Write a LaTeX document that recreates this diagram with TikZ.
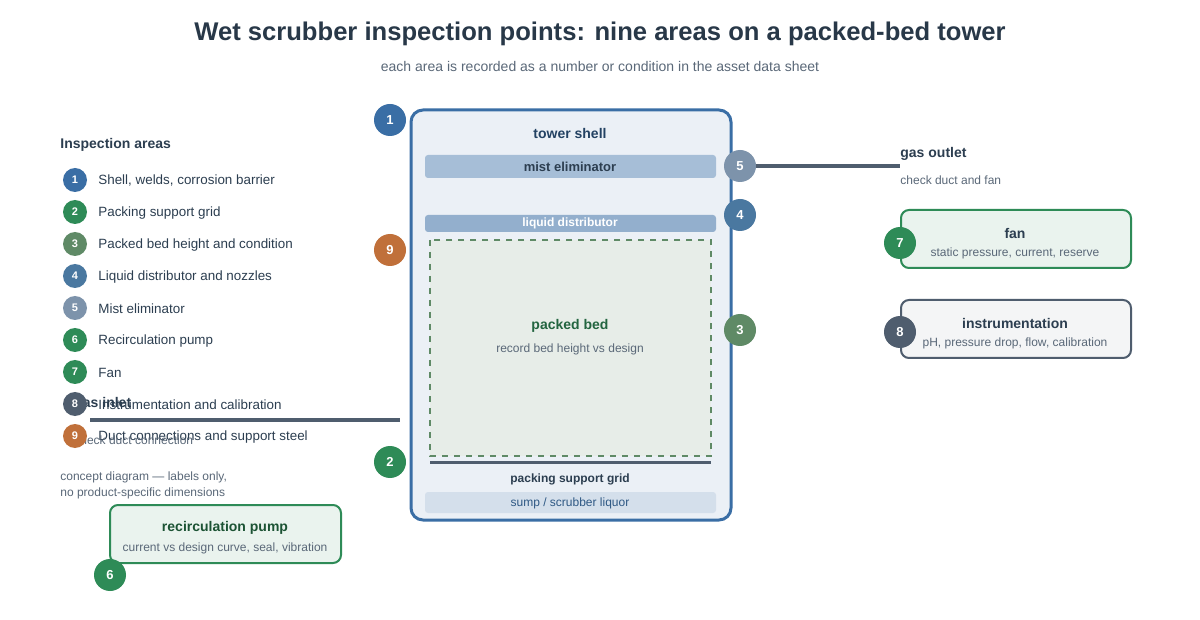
\documentclass[tikz,border=0pt]{standalone}
\usepackage{fontspec}
\setmainfont{Liberation Sans}
\begin{document}
\begin{tikzpicture}[x=0.5pt,y=-0.5pt,
  num/.style={circle,minimum size=16pt,inner sep=0pt,text=white,font=\fontsize{6.5}{7}\selectfont\bfseries},
  lnum/.style={circle,minimum size=12pt,inner sep=0pt,text=white,font=\fontsize{5.5}{6}\selectfont\bfseries},
  leg/.style={anchor=west,inner sep=0pt,text=txt,font=\fontsize{6.7}{8}\selectfont},
  small/.style={text=gry,font=\fontsize{6}{7}\selectfont},
  hd/.style={font=\fontsize{7}{8}\selectfont\bfseries},
  conn/.style={line width=2pt,draw=slate}]
\definecolor{txt}{HTML}{2C3E50}
\definecolor{gry}{HTML}{5A6878}
\definecolor{cblue}{HTML}{3A6EA5}
\definecolor{cgreen}{HTML}{2E8B57}
\definecolor{csage}{HTML}{5F8A66}
\definecolor{cblue2}{HTML}{4A78A0}
\definecolor{cgrey}{HTML}{7D93AB}
\definecolor{slate}{HTML}{4F5D6E}
\definecolor{corange}{HTML}{C0703A}
\useasboundingbox (0,0) rectangle (1200,620);
\fill[white] (0,0) rectangle (1200,620);
\node[text=txt!90!black,font=\fontsize{12.8}{15}\selectfont\bfseries] (title) at (600,34) {Wet scrubber inspection points: nine areas on a packed-bed tower};
\node[text=gry,font=\fontsize{7}{8}\selectfont] (sub) at (600,66) {each area is recorded as a number or condition in the asset data sheet};
% tower
\draw[draw=cblue,line width=1.5pt,fill=cblue!10,rounded corners=6pt] (411,110) rectangle (731,520);
\node[hd,text=cblue!60!black] (shell) at (570,133) {tower shell};
\filldraw[fill=cblue!45,draw=none,rounded corners=1.5pt] (425,155) rectangle (716,178);
\node[font=\fontsize{6.5}{7}\selectfont\bfseries,text=txt] (mist) at (570,167) {mist eliminator};
\filldraw[fill=cblue!55,draw=none,rounded corners=1.5pt] (425,215) rectangle (716,232);
\node[font=\fontsize{6}{7}\selectfont\bfseries,text=white] (dist) at (570,223) {liquid distributor};
\draw[fill=csage!15,draw=csage,dashed,line width=1pt] (430,240) rectangle (711,456);
\node[hd,text=txt!80!green] (bed) at (570,326) {packed bed};
\node[small] (bedsub) at (570,349) {record bed height vs design};
\draw[line width=1.5pt,draw=slate] (430,462) -- (711,462);
\node[font=\fontsize{6}{7}\selectfont\bfseries,text=txt] (grid) at (570,479) {packing support grid};
\filldraw[fill=cblue!22,draw=none,rounded corners=1.5pt] (425,492) rectangle (716,513);
\node[font=\fontsize{6}{7}\selectfont,text=cblue!80!black] (sump) at (570,503) {sump / scrubber liquor};
% outlet
\coordinate (outA) at (755,166); \coordinate (outB) at (900,166);
\draw[conn] (outA) -- (outB);
\node[hd,anchor=west,inner sep=0pt,text=txt] (gout) at (900,154) {gas outlet};
\node[small,anchor=west,inner sep=0pt] (goutsub) at (900,180) {check duct and fan};
% boxes
\draw[fill=cgreen!10,draw=cgreen,line width=1pt,rounded corners=4pt] (901,210) rectangle (1131,268);
\node[hd,text=txt] (fan) at (1015,233) {fan};
\node[small] (fansub) at (1015,253) {static pressure, current, reserve};
\draw[fill=slate!6,draw=slate,line width=1pt,rounded corners=4pt] (901,300) rectangle (1131,358);
\node[hd,text=txt] (inst) at (1015,323) {instrumentation};
\node[small] (instsub) at (1015,343) {pH, pressure drop, flow, calibration};
\draw[fill=cgreen!10,draw=cgreen,line width=1pt,rounded corners=4pt] (110,505) rectangle (341,563);
\node[hd,text=cgreen!60!black] (pump) at (225,528) {recirculation pump};
\node[small] (pumpsub) at (225,548) {current vs design curve, seal, vibration};
% legend
\node[hd,anchor=west,inner sep=0pt,text=txt] (legh) at (60,145) {Inspection areas};
\foreach \i/\t in {1/{Shell, welds, corrosion barrier},2/{Packing support grid},3/{Packed bed height and condition},4/{Liquid distributor and nozzles},5/{Mist eliminator},6/{Recirculation pump},7/{Fan},8/{Instrumentation and calibration},9/{Duct connections and support steel}}{
  \node[leg] (lt\i) at (98,{149+32*\i}) {\t};
}
% inlet
\coordinate (inA) at (90,420); \coordinate (inB) at (400,420);
\draw[conn] (inA) -- (inB);
\node[hd,anchor=west,inner sep=0pt,text=txt] (gin) at (74,404) {gas inlet};
\node[small,anchor=west,inner sep=0pt] (ginsub) at (74,440) {check duct connection};
\foreach \i/\c in {1/cblue,2/cgreen,3/csage,4/cblue2,5/cgrey,6/cgreen,7/cgreen,8/slate,9/corange}{
  \node[lnum,fill=\c] (lc\i) at (75,{148+32*\i}) {\i};
}
\node[small,anchor=west,align=left,inner sep=0pt] (note) at (60,485) {concept diagram — labels only,\\[1pt]no product-specific dimensions};
% numbered markers
\node[num,fill=cblue] (n1) at (390,120) {1};
\node[num,fill=corange] (n9) at (390,250) {9};
\node[num,fill=cgreen] (n2) at (390,462) {2};
\node[num,fill=cgrey] (n5) at (740,166) {5};
\node[num,fill=cblue2] (n4) at (740,215) {4};
\node[num,fill=csage] (n3) at (740,330) {3};
\node[num,fill=cgreen] (n7) at (900,243) {7};
\node[num,fill=slate] (n8) at (900,332) {8};
\node[num,fill=cgreen] (n6) at (110,575) {6};
\end{tikzpicture}
\end{document}
